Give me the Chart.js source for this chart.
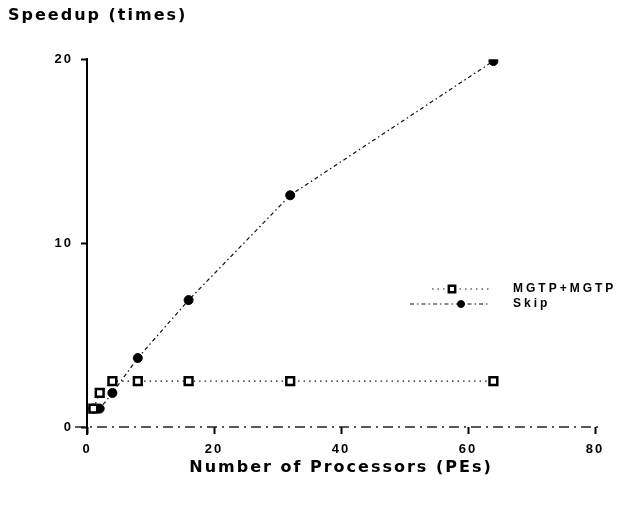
<!DOCTYPE html>
<html>
<head>
<meta charset="utf-8">
<script src="https://cdn.jsdelivr.net/npm/chart.js@4.4.1/dist/chart.umd.min.js"></script>
<style>
  html, body { margin: 0; padding: 0; background: #fff; }
</style>
</head>
<body>
<canvas id="chart" width="629" height="507"></canvas>
<script>
// speedup vs number of PEs
const processors = [1, 2, 4, 8, 16, 32, 64];
const mgtpSpeedup = [1.0, 1.85, 2.5, 2.5, 2.5, 2.5, 2.5];
const skipSpeedup = [1.0, 1.0, 1.85, 3.75, 6.9, 12.6, 19.9];
const seriesNames = ["MGTP+MGTP", "Skip"];
const xTicks = [0, 20, 40, 60, 80];
const yTicks = [0, 10, 20];

const toPoints = (ys) => processors.map((p, i) => ({ x: p, y: ys[i] }));

const tickFont = { family: "'Liberation Sans', Arial, sans-serif", weight: "bold", size: 13 };
const titleFont = { family: "'DejaVu Sans', sans-serif", weight: "bold", size: 16 };

// letter spacing makes the text look like the wide scanned lettering
const spacing = {
  id: "spacing",
  beforeLayout(chart) { chart.ctx.letterSpacing = "2px"; },
  beforeDraw(chart) { chart.ctx.letterSpacing = "2px"; }
};

// broken x axis line (scan look) + y axis running a bit below zero
const axisLines = {
  id: "axisLines",
  beforeDatasetsDraw(chart) {
    const ctx = chart.ctx;
    const x = chart.scales.x, y = chart.scales.y;
    const y0 = y.getPixelForValue(0);
    ctx.save();
    ctx.strokeStyle = "#222";
    ctx.lineWidth = 1.5;
    ctx.setLineDash([10, 5, 2, 5]);
    ctx.beginPath();
    ctx.moveTo(x.left - 12, y0);
    ctx.lineTo(x.right + 8, y0);
    ctx.stroke();
    ctx.setLineDash([]);
    ctx.strokeStyle = "#000";
    ctx.lineWidth = 2;
    ctx.beginPath();
    ctx.moveTo(x.left, y0);
    ctx.lineTo(x.left, y0 + 8);
    ctx.stroke();
    ctx.restore();
  }
};

// legend sits inside the plot area on the right, like the original
const insideLegend = {
  id: "insideLegend",
  afterDraw(chart) {
    const ctx = chart.ctx;
    const rows = [
      { y: 289, x0: 432, x1: 490, mx: 452 },
      { y: 304, x0: 410, x1: 488, mx: 461 }
    ];
    chart.data.datasets.forEach((ds, i) => {
      const r = rows[i];
      ctx.save();
      ctx.strokeStyle = ds.borderColor;
      ctx.lineWidth = ds.borderWidth;
      ctx.setLineDash(ds.borderDash);
      ctx.beginPath();
      ctx.moveTo(r.x0, r.y);
      ctx.lineTo(r.x1, r.y);
      ctx.stroke();
      ctx.setLineDash([]);
      ctx.fillStyle = ds.pointBackgroundColor;
      ctx.strokeStyle = ds.pointBorderColor;
      ctx.lineWidth = ds.pointBorderWidth;
      Chart.helpers.drawPoint(ctx, {
        pointStyle: ds.pointStyle,
        radius: ds.pointRadius - 1,
        borderWidth: ds.pointBorderWidth,
        rotation: 0
      }, r.mx, r.y);
      ctx.letterSpacing = "3px";
      ctx.font = "bold 12px 'Liberation Sans', Arial, sans-serif";
      ctx.fillStyle = "#000";
      ctx.textAlign = "left";
      ctx.textBaseline = "middle";
      ctx.fillText(ds.label, 513, r.y);
      ctx.restore();
    });
  }
};

new Chart(document.getElementById("chart"), {
  type: "line",
  data: {
    datasets: [
      {
        label: seriesNames[0],
        data: toPoints(mgtpSpeedup),
        borderColor: "#111",
        borderWidth: 1.2,
        borderDash: [1.5, 4],
        pointStyle: "rect",
        pointRadius: 5.5,
        pointBorderWidth: 2.5,
        pointBackgroundColor: "#fff",
        pointBorderColor: "#000",
        tension: 0
      },
      {
        label: seriesNames[1],
        data: toPoints(skipSpeedup),
        borderColor: "#111",
        borderWidth: 1.2,
        borderDash: [4, 3, 1.5, 3],
        pointStyle: "circle",
        pointRadius: 4.5,
        pointBorderWidth: 1,
        pointBackgroundColor: "#000",
        pointBorderColor: "#000",
        tension: 0
      }
    ]
  },
  options: {
    responsive: false,
    animation: false,
    layout: { padding: { left: 8, right: 34, top: 0, bottom: 30 } },
    plugins: {
      legend: { display: false },
      tooltip: { enabled: false },
      title: {
        display: true,
        text: "Speedup (times)",
        align: "start",
        color: "#000",
        font: titleFont,
        padding: { top: 6, bottom: 34 }
      }
    },
    scales: {
      x: {
        type: "linear",
        min: 0,
        max: 80,
        afterBuildTicks: (s) => { s.ticks = xTicks.map(v => ({ value: v })); },
        afterFit: (s) => { s.height = 50; },
        grid: { display: true, drawOnChartArea: false, drawTicks: true, tickLength: 7, tickColor: "#000", tickWidth: 2 },
        border: { display: false },
        ticks: { color: "#000", font: tickFont, padding: 8, maxRotation: 0 },
        title: {
          display: true,
          text: "Number of Processors (PEs)",
          color: "#000",
          font: titleFont,
          padding: { top: 0, bottom: 0 }
        }
      },
      y: {
        type: "linear",
        min: 0,
        max: 20,
        afterBuildTicks: (s) => { s.ticks = yTicks.map(v => ({ value: v })); },
        afterFit: (s) => { s.width = 79; },
        grid: { display: true, drawOnChartArea: false, drawTicks: true, tickLength: 6, tickColor: "#000", tickWidth: 2 },
        border: { display: true, color: "#000", width: 2 },
        ticks: { color: "#000", font: tickFont, padding: 8 }
      }
    }
  },
  plugins: [spacing, axisLines, insideLegend]
});
</script>
</body>
</html>
